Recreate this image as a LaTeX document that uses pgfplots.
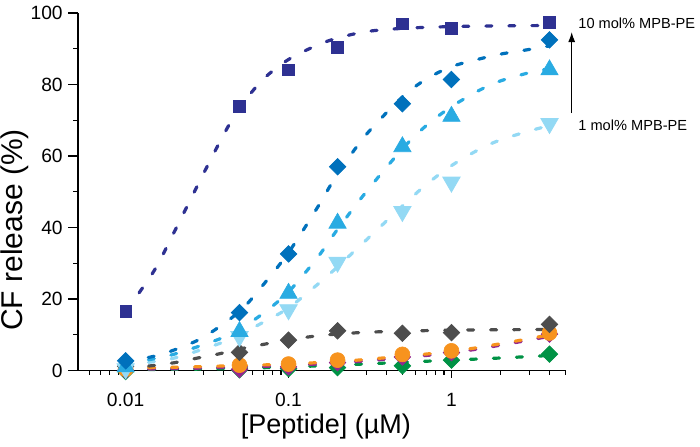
\documentclass[border=0pt]{standalone}
\usepackage{fontspec}
\setmainfont{Liberation Sans}
\usepackage{pgfplots}
\pgfplotsset{compat=1.18}
\usetikzlibrary{arrows.meta}
\definecolor{cNavy}{HTML}{2E3192}
\definecolor{cBlue}{HTML}{0071BC}
\definecolor{cMid}{HTML}{29ABE2}
\definecolor{cLight}{HTML}{93D9F4}
\definecolor{cGray}{HTML}{4D4D4D}
\definecolor{cOrange}{HTML}{F7931E}
\definecolor{cPurple}{HTML}{93278F}
\definecolor{cGreen}{HTML}{009245}
\pgfplotsset{
  fitline/.style={line width=1.6pt, dash pattern=on 3pt off 8.5pt, line cap=round, smooth, no markers},
  pts/.style={only marks, mark options={solid, line width=0.3pt}},
}
\begin{document}
\begin{tikzpicture}
\begin{axis}[
  name=ax, at={(0,0)}, anchor=south west,
  scale only axis, width=244pt, height=178.75pt,
  xmode=log, xmin=0.0051, xmax=5.05, ymin=0, ymax=100,
  axis lines=left, axis line style={-, line width=0.6pt, black},
  clip=false,
  xtick={0.01,0.1,1}, xticklabels={0.01,0.1,1},
  minor xtick={0.006,0.007,0.008,0.009,0.02,0.03,0.04,0.05,0.06,0.07,0.08,0.09,0.2,0.3,0.4,0.5,0.6,0.7,0.8,0.9,2,3,4,5},
  ytick={0,20,40,60,80,100}, minor ytick={10,30,50,70,90},
  tick align=outside, major tick length=5pt, minor tick length=2.5pt,
  tick style={line width=0.6pt, black},
  xtick style={/pgfplots/major tick length=3.5pt, /pgfplots/minor tick length=2pt},
  tick label style={font=\fontsize{9.6}{11}\selectfont},
  yticklabel style={anchor=east, inner sep=0pt, xshift=-2.5pt},
  xticklabel style={anchor=north, inner sep=0pt, yshift=-6pt},
  /pgf/number format/assume math mode=true,
  xlabel={[Peptide] (µM)}, ylabel={CF release (\%)},
  xlabel style={at={(axis description cs:0.508,-0.158)}, anchor=center, font=\fontsize{13.5}{16}\selectfont},
  ylabel style={at={(axis description cs:-0.130,0.393)}, anchor=center, font=\fontsize{15}{18}\selectfont},
]
% fitted curves
\addplot[cGreen, fitline] coordinates {(0.01,0.2)(0.03,0.4)(0.05,0.6)(0.1,1.0)(0.2,1.5)(0.3,1.85)(0.5,2.3)(1,2.9)(2,3.5)(4,4.2)};
\addplot[cPurple, fitline] coordinates {(0.01,0.3)(0.02,0.5)(0.03,0.7)(0.05,1.0)(0.075,1.2)(0.1,1.4)(0.15,1.8)(0.2,2.1)(0.3,2.7)(0.5,3.6)(0.775,4.4)(1,5.0)(1.5,6.1)(2,7.1)(3,8.5)(4,9.6)};
\addplot[cOrange, fitline] coordinates {(0.01,0.7)(0.02,0.9)(0.03,1.1)(0.05,1.4)(0.075,1.6)(0.1,1.8)(0.15,2.2)(0.2,2.5)(0.3,3.1)(0.5,4.0)(0.775,4.8)(1,5.4)(1.5,6.5)(2,7.5)(3,8.9)(4,10.0)};
\addplot[cGray, fitline] coordinates {(0.01,0.8)(0.0142,1.3)(0.02,2.2)(0.027,3.4)(0.037,4.6)(0.05,6)(0.07,7.3)(0.1,8.6)(0.15,9.7)(0.2,10.2)(0.3,10.7)(0.5,11)(1,11.3)(2,11.4)(4,11.5)};
\addplot[cLight, fitline] coordinates {(0.01,1.5)(0.015,2.5)(0.02,3.5)(0.03,6)(0.04,8)(0.05,10)(0.07,13.5)(0.1,17.5)(0.15,24)(0.2,29)(0.3,36.5)(0.5,46)(0.7,52)(1,57.3)(1.5,62)(2,64.5)(3,67)(4,68.5)};
\addplot[cMid, fitline] coordinates {(0.01,2)(0.015,3.3)(0.02,4.6)(0.03,7.2)(0.04,9.3)(0.05,11.5)(0.07,16)(0.1,22)(0.15,31.5)(0.2,39.5)(0.3,50)(0.5,62)(0.7,68.5)(1,73.8)(1.5,78.5)(2,81)(3,83.3)(4,84.4)};
\addplot[cBlue, fitline] coordinates {(0.01,2.5)(0.015,4)(0.02,5.8)(0.03,9.3)(0.05,16.5)(0.07,24)(0.1,33)(0.15,45.5)(0.2,55)(0.3,66)(0.5,76.5)(0.7,81.5)(1,85)(1.5,87.2)(2,88.5)(3,89.8)(4,90.8)};
\addplot[cNavy, fitline] coordinates {(0.01,16.5)(0.015,28)(0.02,39)(0.03,55)(0.04,66)(0.05,73.5)(0.07,81.5)(0.1,87)(0.15,91)(0.2,93)(0.3,94.8)(0.5,95.7)(1,96.2)(2,96.4)(4,96.5)};
% data points
\addplot[pts, cGreen, mark=square*, mark size=2.9pt, mark options={rotate=45}] coordinates {(0.01,-0.3)(0.05,0.2)(0.1,0.5)(0.2,0.8)(0.5,1.3)(1,2.9)(4,4.6)};
\addplot[pts, cPurple, mark=square*, mark size=2.9pt, mark options={rotate=45}] coordinates {(0.01,0)(0.05,0.3)(0.1,1.0)(0.2,2.2)(0.5,3.8)(1,5.0)(4,10.2)};
\addplot[pts, cOrange, mark=*, mark size=3.75pt] coordinates {(0.01,0.4)(0.05,1.5)(0.1,1.8)(0.2,2.9)(0.5,4.5)(1,5.5)(4,10.5)};
\addplot[pts, cGray, mark=square*, mark size=2.9pt, mark options={rotate=45}] coordinates {(0.01,1.2)(0.05,5.1)(0.1,8.5)(0.2,11.1)(0.5,10.4)(1,10.6)(4,12.9)};
\addplot[pts, cLight, mark=triangle*, mark size=5pt, mark options={rotate=180}] coordinates {(0.01,0.5)(0.05,9.5)(0.1,17.0)(0.2,30.3)(0.5,44.5)(1,52.7)(4,69.1)};
\addplot[pts, cMid, mark=triangle*, mark size=5pt] coordinates {(0.01,1.0)(0.05,10.9)(0.1,21.6)(0.2,41.2)(0.5,62.6)(1,71.1)(4,84.1)};
\addplot[pts, cBlue, mark=square*, mark size=2.9pt, mark options={rotate=45}] coordinates {(0.01,2.7)(0.05,16.2)(0.1,32.6)(0.2,57.0)(0.5,74.6)(1,81.4)(4,92.5)};
\addplot[pts, cNavy, mark=square*, mark size=2.9pt] coordinates {(0.01,16.5)(0.05,73.9)(0.1,84.1)(0.2,90.4)(0.5,97.0)(1,95.8)(4,97.4)};
\end{axis}
\node[anchor=west, inner sep=0pt, font=\fontsize{7.3}{9}\selectfont] at (250pt,173.75pt) {10 mol\% MPB-PE};
\node[anchor=west, inner sep=0pt, font=\fontsize{7.3}{9}\selectfont] at (250pt,122.75pt) {1 mol\% MPB-PE};
\draw[-{Latex[length=5pt,width=3.5pt]}, line width=0.6pt] (246.85pt,128.75pt) -- (246.85pt,169.25pt);
\pgfresetboundingbox
\path[use as bounding box] (-39pt,-37.75pt) rectangle (311pt,185.25pt);
\end{tikzpicture}
\end{document}
